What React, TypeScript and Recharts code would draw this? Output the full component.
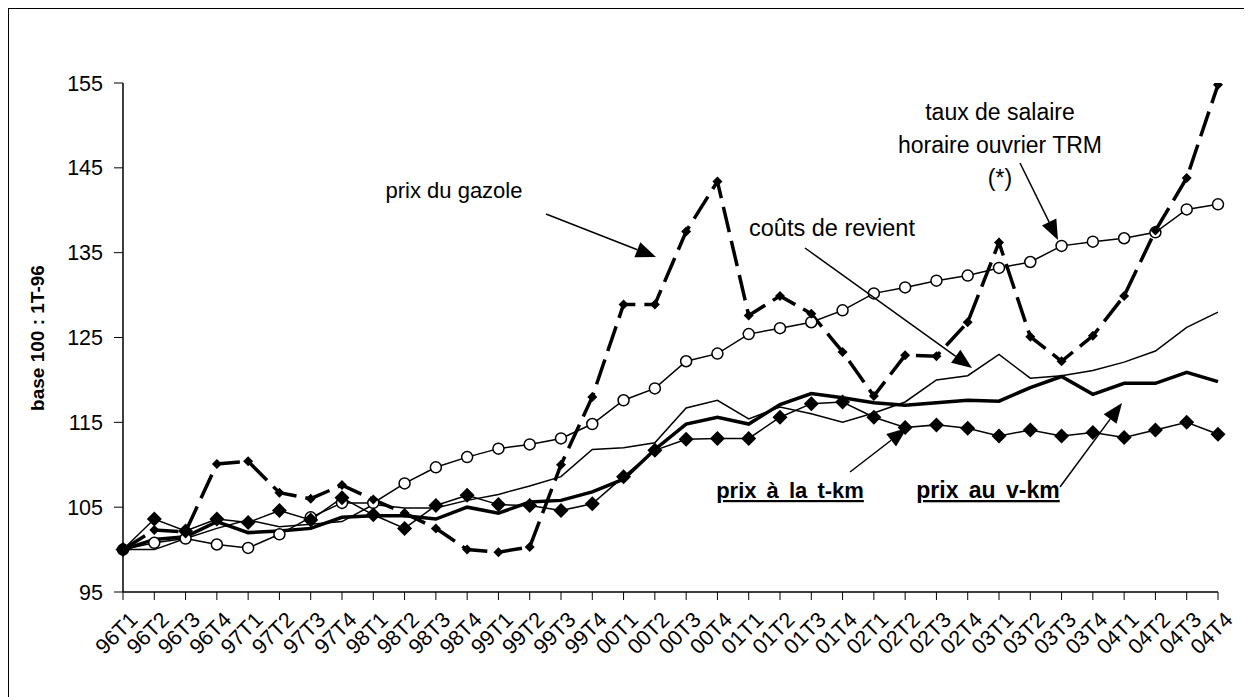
import React from 'react';
import { LineChart, Line, XAxis, YAxis } from 'recharts';

// quarters, base 100 = 1T-96
const quarters = [
  '96T1', '96T2', '96T3', '96T4', '97T1', '97T2', '97T3', '97T4',
  '98T1', '98T2', '98T3', '98T4', '99T1', '99T2', '99T3', '99T4',
  '00T1', '00T2', '00T3', '00T4', '01T1', '01T2', '01T3', '01T4',
  '02T1', '02T2', '02T3', '02T4', '03T1', '03T2', '03T3', '03T4',
  '04T1', '04T2', '04T3', '04T4',
];

const gazole = [
  100, 102.3, 102.1, 110.1, 110.4, 106.7, 106.0, 107.6,
  105.9, 104.3, 102.5, 100.0, 99.7, 100.3, 110.0, 118.0,
  128.9, 128.9, 137.5, 143.4, 127.6, 129.9, 127.8, 123.3,
  118.1, 122.9, 122.8, 126.8, 136.2, 125.1, 122.2, 125.2,
  129.9, 137.6, 143.8, 154.8,
];

const salaire = [
  100, 100.8, 101.3, 100.6, 100.2, 101.8, 103.8, 105.5,
  105.5, 107.8, 109.7, 110.9, 111.9, 112.4, 113.1, 114.8,
  117.6, 119.0, 122.2, 123.1, 125.4, 126.1, 126.8, 128.2,
  130.2, 130.9, 131.7, 132.3, 133.2, 133.9, 135.8, 136.3,
  136.7, 137.4, 140.1, 140.7,
];

const couts = [
  100, 100.0, 101.3, 102.5, 103.5, 102.7, 103.0, 103.3,
  105.3, 104.9, 104.9, 105.8, 106.5, 107.5, 108.6, 111.8,
  112.0, 112.6, 116.7, 117.6, 115.4, 116.8, 116.0, 115.0,
  116.1, 117.4, 120.0, 120.5, 123.0, 120.2, 120.5, 121.1,
  122.1, 123.4, 126.2, 128.0,
];

const tkm = [
  100, 103.6, 102.2, 103.6, 103.2, 104.6, 103.5, 106.1,
  104.1, 102.5, 105.2, 106.4, 105.3, 105.2, 104.6, 105.4,
  108.6, 111.7, 113.0, 113.1, 113.1, 115.6, 117.2, 117.4,
  115.6, 114.4, 114.7, 114.3, 113.4, 114.1, 113.4, 113.8,
  113.2, 114.1, 115.0, 113.6,
];

const vkm = [
  100, 101.2, 101.5, 103.3, 102.0, 102.2, 102.5, 103.8,
  104.0, 104.0, 103.6, 105.0, 104.3, 105.6, 105.8, 106.8,
  108.3, 111.8, 114.8, 115.6, 114.8, 117.1, 118.4, 117.9,
  117.3, 117.0, 117.3, 117.6, 117.5, 119.1, 120.4, 118.3,
  119.6, 119.6, 120.9, 119.8,
];

const yTicks = [95, 105, 115, 125, 135, 145, 155];

const data = quarters.map((q, i) => ({
  q,
  gazole: gazole[i],
  salaire: salaire[i],
  couts: couts[i],
  tkm: tkm[i],
  vkm: vkm[i],
}));

const FONT = 'Arial, "Liberation Sans", sans-serif';

const diamond = (size: number) => (props: any) => {
  const { cx, cy, index } = props;
  if (cx == null || cy == null) return <g key={`d-${index}`} />;
  return (
    <path
      key={`d-${index}`}
      d={`M${cx},${cy - size} L${cx + size},${cy} L${cx},${cy + size} L${cx - size},${cy} Z`}
      fill="#000"
    />
  );
};

const XTick = (props: any) => {
  const { x, y, payload } = props;
  return (
    <g transform={`translate(${x + 5},${y + 8})`}>
      <text
        x={0}
        y={0}
        dy="0.72em"
        textAnchor="end"
        transform="rotate(-45)"
        fontSize={21.5}
        fontFamily={FONT}
        fill="#000"
      >
        {payload.value}
      </text>
    </g>
  );
};

// arrow with filled head, page coordinates
const Arrow = ({ x1, y1, x2, y2 }: { x1: number; y1: number; x2: number; y2: number }) => {
  const a = Math.atan2(y2 - y1, x2 - x1);
  const len = 20;
  const w = 8;
  const bx = x2 - len * Math.cos(a);
  const by = y2 - len * Math.sin(a);
  const px = -Math.sin(a) * w;
  const py = Math.cos(a) * w;
  return (
    <g>
      <line x1={x1} y1={y1} x2={bx} y2={by} stroke="#000" strokeWidth={1.5} />
      <path d={`M${x2},${y2} L${bx + px},${by + py} L${bx - px},${by - py} Z`} fill="#000" />
    </g>
  );
};

export default function App() {
  return (
    <div
      style={{
        position: 'relative',
        width: 1236,
        height: 700,
        border: '1px solid #000',
        background: '#fff',
        fontFamily: FONT,
      }}
    >
      <LineChart
        width={1236}
        height={689}
        data={data}
        margin={{ top: 74, right: 27, bottom: 26, left: 0 }}
      >
        <XAxis
          dataKey="q"
          interval={0}
          tick={<XTick />}
          tickSize={8}
          tickMargin={2}
          height={80}
          axisLine={{ stroke: '#000', strokeWidth: 1.5 }}
          tickLine={{ stroke: '#000' }}
        />
        <YAxis
          width={114}
          domain={[95, 155]}
          ticks={yTicks}
          interval={0}
          tickSize={9}
          tickMargin={11}
          axisLine={{ stroke: '#000', strokeWidth: 1.5 }}
          tickLine={{ stroke: '#000' }}
          tick={{ fontSize: 21.5, fill: '#000', fontFamily: FONT }}
          allowDataOverflow
        />
        <Line
          dataKey="couts"
          stroke="#000"
          strokeWidth={1.5}
          dot={false}
          isAnimationActive={false}
        />
        <Line
          dataKey="vkm"
          stroke="#000"
          strokeWidth={3.5}
          dot={false}
          isAnimationActive={false}
        />
        <Line
          dataKey="salaire"
          stroke="#000"
          strokeWidth={1.5}
          dot={{ r: 5.5, fill: '#fff', stroke: '#000', strokeWidth: 1.5 }}
          isAnimationActive={false}
        />
        <Line
          dataKey="tkm"
          stroke="#000"
          strokeWidth={1.5}
          dot={diamond(7.5)}
          isAnimationActive={false}
        />
        <Line
          dataKey="gazole"
          stroke="#000"
          strokeWidth={3.5}
          strokeDasharray="26 9"
          dot={diamond(5)}
          isAnimationActive={false}
        />
      </LineChart>

      <svg
        width={1236}
        height={689}
        style={{ position: 'absolute', left: 0, top: 0, pointerEvents: 'none' }}
      >
        <g transform="translate(-9,-9)" fontFamily={FONT} fill="#000">
          <text
            transform="translate(44,338) rotate(-90)"
            textAnchor="middle"
            fontSize={19}
            fontWeight="bold"
          >
            base 100 : 1T-96
          </text>

          <text x={454} y={198} textAnchor="middle" fontSize={22}>prix du gazole</text>
          <Arrow x1={546} y1={214} x2={656} y2={257} />

          <text x={832} y={236} textAnchor="middle" fontSize={23.5}>coûts de revient</text>
          <Arrow x1={805} y1={248} x2={972} y2={368} />

          <text x={1000} y={120} textAnchor="middle" fontSize={23}>taux de salaire</text>
          <text x={1000} y={153} textAnchor="middle" fontSize={23}>horaire ouvrier TRM</text>
          <text x={1000} y={186} textAnchor="middle" fontSize={23}>(*)</text>
          <Arrow x1={1020} y1={163} x2={1058} y2={240} />

          <text
            x={790}
            y={498}
            textAnchor="middle"
            fontSize={22}
            fontWeight="bold"
            textDecoration="underline"
            wordSpacing={4}
          >
            prix à la t-km
          </text>
          <Arrow x1={850} y1={472} x2={907} y2={428} />

          <text
            x={988}
            y={498}
            textAnchor="middle"
            fontSize={23}
            fontWeight="bold"
            textDecoration="underline"
            wordSpacing={4}
          >
            prix au v-km
          </text>
          <Arrow x1={1060} y1={487} x2={1122} y2={403} />
        </g>
      </svg>
    </div>
  );
}
